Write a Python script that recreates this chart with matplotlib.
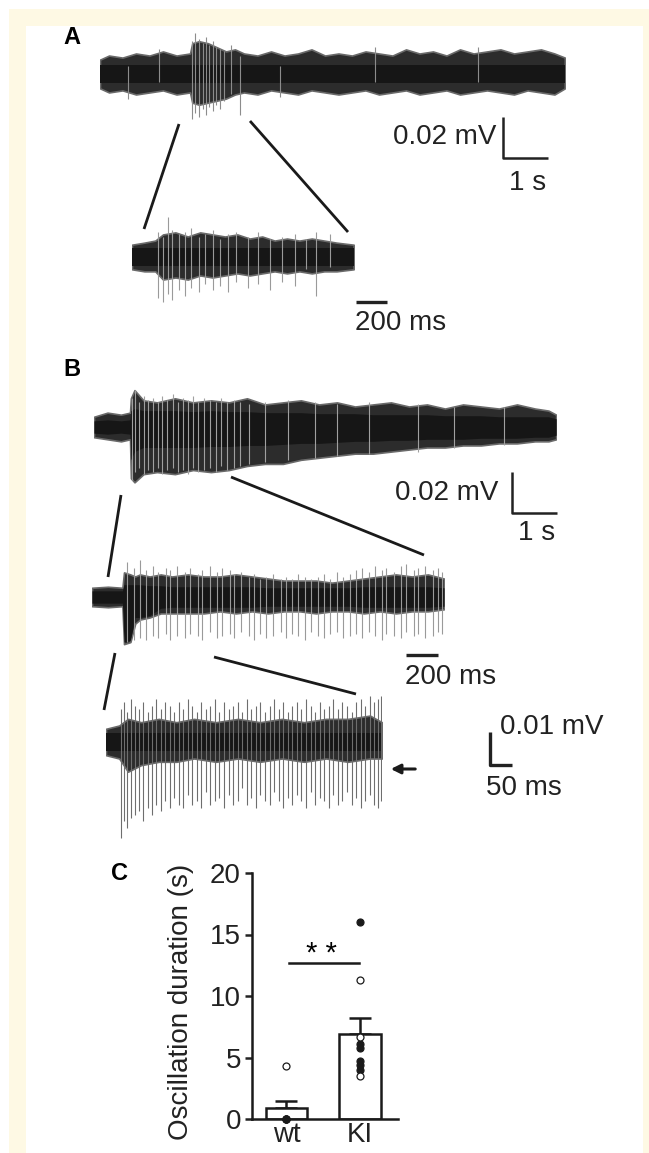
import numpy as np
import matplotlib
matplotlib.use("Agg")
from matplotlib import pyplot as plt
from matplotlib.patches import Rectangle

plt.rcParams['font.family'] = ['Liberation Sans', 'DejaVu Sans']

W, H = 649, 1153

# ---- traces (time in s, amplitude in uV) ----
# A, full recording
t_a1 = [0, 0.2, 0.5, 0.8, 1.1, 1.4, 1.7, 2.0, 2.05, 2.2, 2.4, 2.6, 2.8, 3.0, 3.2, 3.5, 3.8, 4.1, 4.4, 4.7,
        5.0, 5.3, 5.6, 5.9, 6.2, 6.5, 6.8, 7.1, 7.4, 7.7, 8.0, 8.3, 8.6, 8.9, 9.2, 9.5, 9.8, 10.1, 10.33]
up_a1 = [7, 9, 8, 10, 9, 11, 9, 10, 15, 16, 15, 13, 11, 12, 10, 9, 11, 9, 10, 12,
         9, 10, 9, 11, 10, 9, 12, 10, 11, 9, 12, 10, 11, 12, 10, 11, 12, 10, 8]
lo_a1 = [-7, -9, -8, -10, -9, -8, -10, -9, -14, -15, -14, -13, -12, -10, -9, -10, -8, -9, -10, -8,
         -9, -10, -9, -8, -10, -9, -8, -10, -9, -8, -10, -9, -8, -9, -10, -8, -9, -10, -7]
core_a1 = 4.5
spk_t_a1 = [0.62, 1.3, 2.05, 2.12, 2.2, 2.28, 2.35, 2.42, 2.5, 2.58, 2.66, 2.75, 2.9, 3.1, 4.0, 6.1, 8.4]
spk_lo_a1 = [-12, -4, -22, -19, -21, -17, -20, -16, -18, -15, -17, -13, -10, -20, -11, -4, -4]
spk_hi_a1 = [4, 12, 16, 20, 17, 15, 18, 14, 16, 13, 12, 11, 14, 9, 4, 13, 13]

# A, zoom
t_a2 = [0, 0.08, 0.15, 0.2, 0.28, 0.36, 0.44, 0.52, 0.6, 0.68, 0.76, 0.84, 0.92, 1.0, 1.08, 1.16, 1.24, 1.32, 1.43]
up_a2 = [6, 7, 8, 11, 12, 10, 12, 11, 10, 11, 9, 10, 8, 9, 8, 9, 8, 7, 6]
lo_a2 = [-6, -7, -7, -11, -10, -11, -9, -10, -9, -8, -9, -8, -7, -8, -7, -8, -7, -7, -6]
core_a2 = 4.6
spk_t_a2 = [0.17, 0.2, 0.23, 0.26, 0.3, 0.34, 0.38, 0.43, 0.47, 0.52, 0.57, 0.62, 0.67, 0.75, 0.81, 0.89,
            0.97, 1.05, 1.12, 1.19, 1.28]
spk_lo_a2 = [-20, -22, -18, -21, -16, -19, -15, -17, -13, -16, -14, -17, -12, -15, -13, -16, -12, -14, -6, -19, -5]
spk_hi_a2 = [12, 10, 19.5, 13, 11, 12, 14, 10, 11, 13, 9, 11, 12, 10, 12, 9, 10, 11, 9, 12, 11]

# B, full recording
t_b1 = [0, 0.3, 0.6, 0.8, 0.82, 0.9, 1.1, 1.4, 1.8, 2.2, 2.6, 3.0, 3.4, 3.8, 4.2, 4.6, 5.0, 5.4, 5.8, 6.2,
        6.6, 7.0, 7.4, 7.8, 8.2, 8.6, 9.0, 9.4, 9.8, 10.1, 10.27]
up_b1 = [5, 7, 6, 7, 14, 18, 13, 12, 14, 12, 13, 12, 14, 11, 12, 13, 11, 12, 10, 11,
         12, 10, 11, 9, 11, 10, 9, 11, 9, 8, 6]
lo_b1 = [-5, -6, -7, -6, -25, -27, -23, -22, -23, -21, -22, -21, -19, -18, -18, -16, -15, -14, -13, -13,
         -12, -11, -10, -10, -9, -9, -8, -8, -7, -7, -6]
core_up_b1 = [3, 3.5, 3, 3.5, 8, 9, 8, 8, 8, 7.5, 8, 7.5, 7.5, 7, 7, 7, 6.5, 6.5, 6.5, 6,
              6, 6, 6, 5.5, 5.5, 5.5, 5, 5, 5, 5, 4]
core_lo_b1 = [-3, -3.5, -3, -3.5, -16, -12, -10, -10, -10, -10, -9.5, -9.5, -9, -9, -8.5, -8, -8, -7.5, -7, -7,
              -6.5, -6.5, -6, -6, -6, -5.5, -5.5, -5.5, -5, -5, -4]
spk_t_b1 = [0.85, 0.92, 1.0, 1.1, 1.2, 1.3, 1.42, 1.52, 1.63, 1.75, 1.86, 1.97, 2.08, 2.2, 2.32, 2.45,
            2.57, 2.7, 2.83, 2.95, 3.1, 3.25, 3.45, 3.8, 4.3, 4.9, 5.4, 6.1, 7.2, 8.0, 9.1]
spk_lo_b1 = [-26, -22, -20, -23, -21, -22, -20, -23, -21, -20, -22, -21, -23, -20, -22, -21,
             -20, -22, -19, -21, -20, -19, -18, -17, -16, -15, -14, -13, -12, -10, -9]
spk_hi_b1 = [14, 18, 12, 15, 13, 14, 12, 15, 13, 16, 12, 14, 13, 15, 12, 14,
             13, 12, 14, 12, 13, 12, 11, 12, 13, 12, 11, 12, 11, 10, 10]

# B, first zoom
t_b2 = [0, 0.1, 0.19, 0.2, 0.24, 0.27, 0.3, 0.36, 0.43, 0.5, 0.6, 0.7, 0.8, 0.9, 1.0, 1.1, 1.2, 1.3,
        1.4, 1.5, 1.6, 1.7, 1.8, 1.9, 2.0, 2.1, 2.2]
up_b2 = [4.5, 5, 4.5, 12, 11, 10, 11, 10, 11, 10, 11, 10, 10, 11, 10, 9, 8, 8, 8, 7, 8, 9, 10, 11, 10, 11, 9]
lo_b2 = [-4.5, -5, -4.5, -23, -22, -13, -11, -10, -8, -8, -8, -8, -7, -8, -7, -8, -7, -7, -8, -7,
         -7, -8, -7, -8, -7, -7, -6]
core_up_b2 = [3, 3, 3, 6, 6, 6, 6, 5.5, 5.5, 5, 5, 5, 5, 5, 5, 4.5, 4.5, 4.5, 4.5, 4.5, 4.5, 5, 5, 5, 5, 5, 4.5]
core_lo_b2 = [-3, -3, -3, -22, -21, -10, -10, -9, -5.5, -5, -5, -5, -5, -5, -5, -4.5, -4.5, -4.5,
              -4.5, -4.5, -4.5, -5, -5, -5, -5, -5, -4.5]
spk_t_b2 = [0.22, 0.26, 0.30, 0.34, 0.38, 0.41, 0.46, 0.49, 0.53, 0.58, 0.61, 0.66, 0.69, 0.74, 0.78, 0.81,
            0.86, 0.89, 0.93, 0.98, 1.01, 1.05, 1.09, 1.13, 1.18, 1.21, 1.25, 1.29, 1.33, 1.37, 1.41, 1.45,
            1.49, 1.53, 1.57, 1.61, 1.65, 1.69, 1.73, 1.77, 1.81, 1.84, 1.89, 1.93, 1.96, 2.01, 2.04, 2.08,
            2.13, 2.16, 2.19]
spk_lo_b2 = [-22, -21, -20, -21, -19, -20, -18, -21, -19, -20, -18, -19, -21, -17, -20, -19, -18, -20,
             -17, -19, -21, -18, -20, -19, -17, -20, -18, -19, -21, -17, -19, -20, -18, -17, -20, -19,
             -18, -20, -17, -19, -21, -18, -19, -20, -17, -19, -18, -20, -19, -17, -18]
spk_hi_b2 = [17, 14, 18, 13, 15, 12, 14, 13, 15, 12, 14, 11, 13, 15, 12, 14, 13, 11, 12, 10, 11, 9,
             10, 11, 9, 10, 9, 11, 10, 9, 10, 11, 9, 12, 10, 11, 13, 14, 12, 15, 13, 14, 12, 15, 16,
             13, 14, 15, 13, 14, 12]

# B, second zoom
t_b3 = [0, 0.03, 0.05, 0.08, 0.12, 0.16, 0.2, 0.25, 0.3, 0.35, 0.4, 0.45, 0.5, 0.55, 0.6, 0.627]
up_b3 = [4, 5, 7, 6, 7, 6, 7, 6, 7, 6, 7, 6, 7, 7, 8, 6]
lo_b3 = [-4, -5, -9, -7, -6, -6, -5, -6, -5, -6, -5, -6, -5, -6, -5, -5]
core_b3 = 2.6
spk_t_b3 = [0.034, 0.041, 0.048, 0.057, 0.066, 0.075, 0.084, 0.095, 0.105, 0.114, 0.125, 0.134, 0.145,
            0.155, 0.166, 0.175, 0.186, 0.195, 0.207, 0.216, 0.227, 0.236, 0.248, 0.257, 0.268, 0.280,
            0.289, 0.300, 0.309, 0.320, 0.330, 0.341, 0.350, 0.361, 0.373, 0.382, 0.393, 0.402, 0.414,
            0.423, 0.434, 0.443, 0.455, 0.466, 0.475, 0.486, 0.495, 0.507, 0.516, 0.527, 0.536, 0.548,
            0.559, 0.568, 0.580, 0.589, 0.600, 0.609, 0.618, 0.625]
spk_lo_b3 = [-29, -24, -26, -23, -22, -21, -24, -20, -22, -19, -21, -18, -20, -17, -19, -20, -16, -19,
             -18, -20, -15, -19, -18, -17, -20, -16, -19, -18, -14, -19, -17, -20, -16, -18, -19, -15,
             -18, -20, -17, -19, -16, -18, -20, -15, -19, -17, -18, -20, -16, -19, -18, -15, -19, -17,
             -20, -18, -16, -19, -20, -18]
spk_hi_b3 = [10, 12, 9, 13, 11, 10, 12, 9, 11, 13, 10, 12, 11, 9, 12, 10, 13, 11, 9, 12, 10, 11, 13, 9,
             12, 10, 11, 12, 9, 13, 10, 11, 12, 9, 11, 13, 10, 12, 9, 11, 12, 10, 13, 11, 9, 12, 10, 11,
             13, 10, 12, 11, 9, 12, 13, 11, 14, 12, 13, 14]

# ---- panel C ----
groups = ['wt', 'KI']
means = [0.9, 6.9]
sems = [0.55, 1.3]
wt_open = [4.3]
wt_filled = [0, 0, 0, 0]
ki_open = [11.3, 6.7, 3.5]
ki_filled = [16.0, 6.1, 5.8, 4.7, 4.4, 4.0]
sig_level = 12.7

fig = plt.figure(figsize=(W / 100, H / 100), dpi=100, facecolor='white')

# background / annotation layer in pixel coords
bg = fig.add_axes([0, 0, 1, 1])
bg.set_xlim(0, W)
bg.set_ylim(H, 0)
bg.axis('off')
bg.add_patch(Rectangle((9, 9), W, H, color='#fef9e4', lw=0))
bg.add_patch(Rectangle((26, 26), 617, H, color='white', lw=0))

CORE = '#161616'
FRINGE = '#2c2c2c'


def trace_axes(x0, cy, dur, px_s, px_uv):
    top, bot = cy - 60, cy + 110
    ax = fig.add_axes([x0 / W, 1 - bot / H, dur * px_s / W, (bot - top) / H])
    ax.set_xlim(0, dur)
    ax.set_ylim(-110 / px_uv, 60 / px_uv)
    ax.axis('off')
    return ax


def draw_trace(ax, t, up, lo, core_up, core_lo, st, slo, shi, spk_col):
    ax.fill_between(t, lo, up, color=FRINGE, lw=1.2, edgecolor='#6a6a6a')
    ax.vlines(st, slo, shi, color=spk_col, lw=0.8)
    ax.fill_between(t, core_lo, core_up, color=CORE, lw=0)


def scale_bar(ax, x, y, dx, dy, lw=1.8):
    pts_x = [x, x, x + dx] if dy else [x, x + dx]
    pts_y = [y + dy, y, y] if dy else [y, y]
    ax.plot(pts_x, pts_y, color='#222222', lw=lw, clip_on=False, solid_capstyle='butt')


# A
ax_a1 = trace_axes(100, 74, 10.33, 45, 2.05)
draw_trace(ax_a1, t_a1, up_a1, lo_a1, core_a1, -core_a1, spk_t_a1, spk_lo_a1, spk_hi_a1, '#8c8c8c')
scale_bar(ax_a1, 8.96, -41, 1.0, 20)

ax_a2 = trace_axes(132, 257, 1.43, 155, 2.05)
draw_trace(ax_a2, t_a2, up_a2, lo_a2, core_a2, -core_a2, spk_t_a2, spk_lo_a2, spk_hi_a2, '#9a9a9a')
scale_bar(ax_a2, 1.445, -22, 0.2, 0, lw=2.4)

# B
ax_b1 = trace_axes(94, 427, 10.27, 45, 2.05)
draw_trace(ax_b1, t_b1, up_b1, lo_b1, core_up_b1, core_lo_b1, spk_t_b1, spk_lo_b1, spk_hi_b1, '#a0a0a0')
scale_bar(ax_b1, 9.29, -42, 1.0, 20)

ax_b2 = trace_axes(92, 597, 2.2, 160, 2.05)
draw_trace(ax_b2, t_b2, up_b2, lo_b2, core_up_b2, core_lo_b2, spk_t_b2, spk_lo_b2, spk_hi_b2, '#9a9a9a')
scale_bar(ax_b2, 1.96, -28.3, 0.2, 0, lw=2.4)

ax_b3 = trace_axes(106, 742, 0.627, 440, 3.3)
draw_trace(ax_b3, t_b3, up_b3, lo_b3, core_b3, -core_b3, spk_t_b3, spk_lo_b3, spk_hi_b3, '#6e6e6e')
scale_bar(ax_b3, 0.873, -7, 0.05, 10, lw=2.4)

# zoom connectors and arrow
for (x0, y0, x1, y1) in [(179, 124, 144, 229), (250, 121, 348, 232), (121, 495, 108, 577),
                         (231, 477, 424, 555), (115, 653, 104, 710), (214, 657, 356, 694)]:
    bg.plot([x0, x1], [y0, y1], color='#1a1a1a', lw=2.0, solid_capstyle='butt')
bg.annotate('', xy=(388, 769), xytext=(418, 769),
            arrowprops=dict(arrowstyle='-|>', color='#1a1a1a', lw=2.2, mutation_scale=14))

tk = dict(fontsize=20, color='#222222', va='center')
bg.text(72, 38, 'A', fontsize=17, fontweight='bold', ha='center', va='center')
bg.text(72, 370, 'B', fontsize=17, fontweight='bold', ha='center', va='center')
bg.text(120, 873, 'C', fontsize=17, fontweight='bold', ha='center', va='center')
bg.text(496, 137, '0.02 mV', ha='right', **tk)
bg.text(528, 183, '1 s', ha='center', **tk)
bg.text(355, 323, '200 ms', ha='left', **tk)
bg.text(498, 493, '0.02 mV', ha='right', **tk)
bg.text(537, 533, '1 s', ha='center', **tk)
bg.text(405, 677, '200 ms', ha='left', **tk)
bg.text(500, 727, '0.01 mV', ha='left', **tk)
bg.text(486, 788, '50 ms', ha='left', **tk)

# C
axc = fig.add_axes([252 / W, 1 - 1119 / H, (398 - 252) / W, (1119 - 873) / H])
axc.set_facecolor('none')
x = np.arange(len(groups))
axc.bar(x, means, width=0.56, color='white', edgecolor='#1a1a1a', lw=1.8, zorder=2)
axc.errorbar(x, means, yerr=[[0, 0], sems], fmt='none', ecolor='#1a1a1a', elinewidth=1.8,
             capsize=8, capthick=1.8, zorder=1)
mk = dict(ls='none', marker='o', ms=5, mec='#1a1a1a', mew=0.9, zorder=3)
axc.plot([0] * len(wt_filled), wt_filled, mfc='#1a1a1a', clip_on=False, **mk)
axc.plot([0] * len(wt_open), wt_open, mfc='white', **mk)
axc.plot([1] * len(ki_filled), ki_filled, mfc='#1a1a1a', **mk)
axc.plot([1] * len(ki_open), ki_open, mfc='white', **mk)
axc.plot([0.03, 0.98], [sig_level, sig_level], color='#1a1a1a', lw=1.8)
axc.text(0.48, sig_level + 0.1, '* *', fontsize=21, ha='center', va='baseline')
axc.set_xlim(-0.469, 1.517)
axc.set_ylim(0, 20)
axc.set_yticks([0, 5, 10, 15, 20])
axc.set_xticks(x)
axc.set_xticklabels(groups)
for s in ['top', 'right']:
    axc.spines[s].set_visible(False)
for s in ['left', 'bottom']:
    axc.spines[s].set_linewidth(1.8)
    axc.spines[s].set_color('#1a1a1a')
axc.tick_params(axis='y', direction='out', length=5, width=1.8, labelsize=20, pad=3, colors='#222222')
axc.tick_params(axis='x', length=0, labelsize=20, pad=2, colors='#222222')
axc.set_ylabel('Oscillation duration (s)', fontsize=20, color='#222222')
axc.yaxis.set_label_coords(-0.40, 0.478)

fig.savefig('out.png', dpi=100, facecolor='white')
